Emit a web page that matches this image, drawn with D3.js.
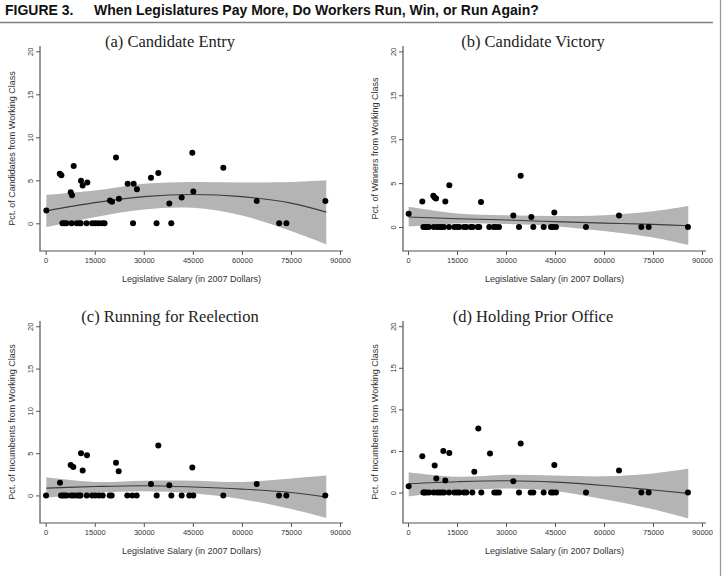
<!DOCTYPE html>
<meta charset="utf-8">
<style>
body { margin: 0; background: #fff; }
text { font-family: "Liberation Sans", Arial, sans-serif; }
.ptitle { font-family: "Liberation Serif", "Times New Roman", serif; font-size: 16.5px; fill: #222; }
.tick text { font-size: 7.5px; fill: #333; }
.tick line { stroke: #555; }
.axlab { font-size: 9px; fill: #333; }
</style>
<body>
<script src="https://cdn.jsdelivr.net/npm/d3@7"></script>
<script>

// salary / pct pairs
var entry = [[200,1.5],[4300,5.75],[4800,5.6],[7650,3.6],[8040,3.25],[8560,6.65],[10800,4.95],[11300,4.4],
  [12720,4.75],[19660,2.65],[20270,2.5],[21500,7.65],[22400,2.85],[25070,4.6],[26900,4.6],[27900,3.95],
  [32200,5.3],[34440,5.85],[37800,2.3],[41580,3.0],[44840,8.2],[45140,3.7],[54320,6.45],[64520,2.6],[85530,2.6],
  [5100,0],[5700,0],[6300,0],[7900,0],[9500,0],[10300,0],[10700,0],[12500,0],[14200,0],[15200,0],[16200,0],
  [17300,0],[18000,0],[26700,0],[33900,0],[38400,0],[71400,0],[73600,0]];

var victory = [[200,1.5],[4380,2.9],[7750,3.55],[8170,3.35],[8570,3.25],[11420,2.9],[12650,4.75],[22350,2.85],
  [32240,1.3],[34490,5.85],[37750,1.15],[44790,1.65],[64600,1.3],
  [4700,0],[5100,0],[5600,0],[6330,0],[7870,0],[8880,0],[9580,0],[10320,0],[11020,0],[12550,0],[14170,0],
  [15000,0],[15700,0],[17140,0],[17850,0],[19190,0],[19800,0],[21330,0],[21820,0],[24880,0],[26230,0],
  [26930,0],[27850,0],[33980,0],[38360,0],[41540,0],[43770,0],[44380,0],[45300,0],[54480,0],[71420,0],
  [73680,0],[85700,0]];

var reelection = [[4370,1.5],[7640,3.6],[8440,3.35],[10800,5.0],[11300,2.95],[12630,4.75],[21500,3.85],
  [22320,2.85],[32200,1.35],[34440,5.9],[37800,1.2],[44840,3.3],[64520,1.35],
  [100,0],[4680,0],[5200,0],[5800,0],[6420,0],[7830,0],[8560,0],[9570,0],[10280,0],[10650,0],[12540,0],
  [14160,0],[15180,0],[16300,0],[17430,0],[19570,0],[20180,0],[24950,0],[26490,0],[27820,0],[33940,0],
  [38420,0],[41580,0],[43910,0],[45140,0],[54310,0],[71350,0],[73590,0],[85500,0]];

var priorOffice = [[200,0.75],[4380,4.35],[8170,3.25],[8670,1.7],[10810,5.0],[11420,1.45],[12650,4.75],
  [20300,2.5],[21520,7.7],[25100,4.7],[32240,1.35],[34490,5.9],[44790,3.3],[64600,2.65],
  [4700,0],[5000,0],[5610,0],[6430,0],[7860,0],[8880,0],[9590,0],[10300,0],[11020,0],[12550,0],[14180,0],
  [15000,0],[15720,0],[17150,0],[17860,0],[19690,0],[22440,0],[26420,0],[27130,0],[27850,0],[33980,0],
  [37550,0],[38360,0],[41530,0],[43770,0],[44380,0],[45300,0],[54490,0],[71430,0],[73670,0],[85700,0]];

// fitted quadratic and 95% band, read at these salaries
var fitSalary = [200, 15000, 30000, 45000, 60000, 75000, 85800];
var fitA = [1.45, 2.4, 3.1, 3.35, 3.1, 2.35, 1.3],   loA = [-0.45, 0.7, 1.6, 1.8, 0.9, -0.9, -2.45],  hiA = [3.3, 3.8, 4.6, 4.8, 4.75, 4.8, 5.0];
var fitB = [1.15, 0.95, 0.8, 0.62, 0.45, 0.3, 0.15], loB = [0.05, 0.4, 0.35, 0.1, -0.45, -1.2, -2.05],  hiB = [2.3, 1.55, 1.35, 1.25, 1.35, 1.8, 2.4];
var fitC = [0.86, 1.05, 1.15, 1.0, 0.75, 0.35, -0.2], loC = [-0.3, 0.28, 0.5, 0.25, -0.45, -1.6, -2.65], hiC = [2.15, 1.6, 1.75, 1.75, 1.6, 2.0, 2.35];
var fitD = [1.05, 1.3, 1.42, 1.25, 0.85, 0.3, -0.1],  loD = [-0.45, 0.2, 0.5, 0.2, -0.8, -2.0, -3.1],   hiD = [2.45, 1.9, 2.15, 2.05, 1.95, 2.3, 2.85];

var xTicks = [0, 15000, 30000, 45000, 60000, 75000, 90000];
var yTicks = [0, 5, 10, 15, 20];

var panels = [
  {title: "(a) Candidate Entry", ylab: "Pct. of Candidates from Working Class", pts: entry, fit: fitA, lo: loA, hi: hiA, yLow: -3.22, col: 0, row: 0},
  {title: "(b) Candidate Victory", ylab: "Pct. of Winners from Working Class", pts: victory, fit: fitB, lo: loB, hi: hiB, yLow: -2.73, col: 1, row: 0},
  {title: "(c) Running for Reelection", ylab: "Pct. of Incumbents from Working Class", pts: reelection, fit: fitC, lo: loC, hi: hiC, yLow: -3.26, col: 0, row: 1},
  {title: "(d) Holding Prior Office", ylab: "Pct. of Incumbents from Working Class", pts: priorOffice, fit: fitD, lo: loD, hi: hiD, yLow: -3.66, col: 1, row: 1}
];

var W = 726, H = 576;
var cols = [{left: 40, x0: 45.7, x1: 340, right: 343}, {left: 403, x0: 408, x1: 702, right: 706}];
var rows = [{top: 46, bottom: 251}, {top: 321, bottom: 523}];

var svg = d3.select("body").append("svg")
    .attr("width", W)
    .attr("height", H);

svg.append("rect").attr("width", W).attr("height", H).attr("fill", "#fff");

// figure heading
svg.append("text")
    .attr("x", 5).attr("y", 14.5)
    .style("font-weight", "bold").style("font-size", "14px").style("fill", "#111")
    .text("FIGURE 3.");
svg.append("text")
    .attr("x", 94).attr("y", 14.5)
    .style("font-weight", "bold").style("font-size", "14px").style("fill", "#111")
    .text("When Legislatures Pay More, Do Workers Run, Win, or Run Again?");
svg.append("line")
    .attr("x1", 0).attr("x2", 713).attr("y1", 22.5).attr("y2", 22.5)
    .attr("stroke", "#808080").attr("stroke-width", 1.5);
svg.append("line")
    .attr("x1", 720.5).attr("x2", 720.5).attr("y1", 0).attr("y2", H)
    .attr("stroke", "#999").attr("stroke-width", 1.3);

panels.forEach(function(p) {
  var c = cols[p.col], r = rows[p.row];
  var yHigh = 20 + 5.3 / ((r.bottom - r.top) / 23.8);

  var x = d3.scaleLinear().domain([0, 90000]).range([c.x0, c.x1]);
  var y = d3.scaleLinear().domain([p.yLow, yHigh]).range([r.bottom, r.top]);

  var g = svg.append("g");

  var fitData = fitSalary.map(function(s, i) { return {s: s, f: p.fit[i], lo: p.lo[i], hi: p.hi[i]}; });

  // confidence band
  g.append("path")
      .datum(fitData)
      .attr("fill", "#b4b4b4")
      .attr("d", d3.area()
        .curve(d3.curveCatmullRom)
        .x(function(d) { return x(d.s); })
        .y0(function(d) { return y(d.lo); })
        .y1(function(d) { return y(d.hi); }));

  // fitted line
  g.append("path")
      .datum(fitData)
      .attr("fill", "none")
      .attr("stroke", "#3c3c3c")
      .attr("stroke-width", 1.1)
      .attr("d", d3.line()
        .curve(d3.curveCatmullRom)
        .x(function(d) { return x(d.s); })
        .y(function(d) { return y(d.f); }));

  // points
  g.selectAll(".dot")
      .data(p.pts)
    .enter().append("circle")
      .attr("class", "dot")
      .attr("cx", function(d) { return x(d[0]); })
      .attr("cy", function(d) { return y(d[1]); })
      .attr("r", 3)
      .attr("fill", "#000");

  // axes
  var xa = g.append("g")
      .attr("transform", "translate(0," + r.bottom + ")")
      .call(d3.axisBottom(x).tickValues(xTicks).tickSize(4).tickPadding(3).tickFormat(d3.format("d")));
  xa.select(".domain").remove();

  var ya = g.append("g")
      .attr("transform", "translate(" + c.left + ",0)")
      .call(d3.axisLeft(y).tickValues(yTicks).tickSize(4).tickFormat(d3.format("d")));
  ya.select(".domain").remove();
  ya.selectAll("text")
      .attr("transform", "rotate(-90)")
      .attr("x", 0).attr("y", -7).attr("dy", 0)
      .style("text-anchor", "middle");

  g.append("path")
      .attr("d", "M" + c.left + "," + r.top + "V" + r.bottom + "H" + c.right)
      .attr("fill", "none")
      .attr("stroke", "#555")
      .attr("stroke-width", 1.2);

  // labels
  g.append("text")
      .attr("class", "axlab")
      .attr("x", (c.left + c.right) / 2)
      .attr("y", r.bottom + 30.5)
      .attr("text-anchor", "middle")
      .text("Legislative Salary (in 2007 Dollars)");

  g.append("text")
      .attr("class", "axlab")
      .attr("transform", "translate(" + (c.left - 25) + "," + ((r.top + r.bottom) / 2) + ") rotate(-90)")
      .attr("text-anchor", "middle")
      .text(p.ylab);

  g.append("text")
      .attr("class", "ptitle")
      .attr("x", c.left + 130)
      .attr("y", r.top + 1)
      .attr("text-anchor", "middle")
      .text(p.title);
});

</script>
</body>
